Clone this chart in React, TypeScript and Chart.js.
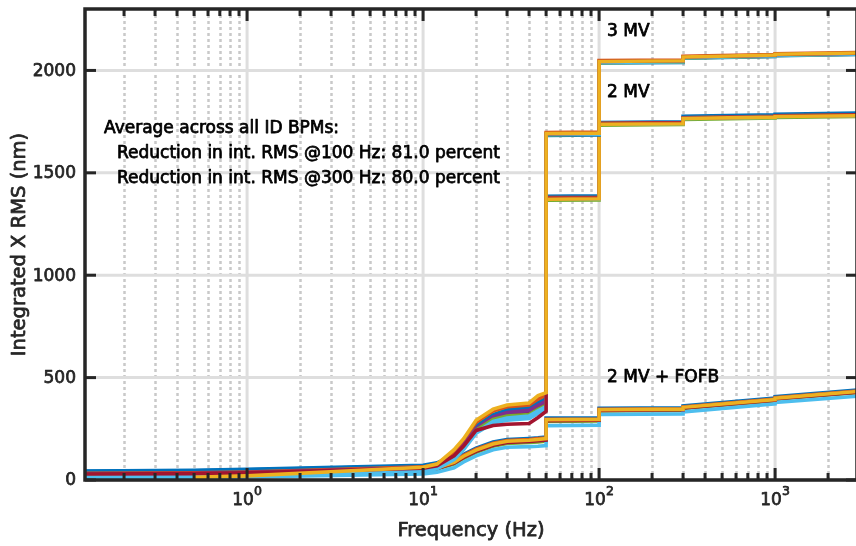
import React, { useEffect, useRef } from "react";
import { Chart, registerables } from "chart.js";
Chart.register(...registerables);

// Frequency grid (Hz). Repeated values give the vertical steps.
const FREQ = [0.12, 0.5, 1, 10, 12, 15, 17, 20, 25, 30, 40, 45, 50, 50, 100, 100, 300, 300, 1000, 1000, 3000];

// 2 MV + FOFB
const FOFB_BLUE = [40, 43, 46, 62, 68, 95, 125, 155, 185, 198, 203, 206, 210, 302, 304, 350, 353, 362, 400, 407, 440];
const FOFB_ORANGE = [30, 32, 35, 56, 63, 90, 120, 150, 180, 193, 198, 202, 205, 296, 298, 345, 348, 357, 395, 402, 435];
const FOFB_PURPLE = [27, 29, 32, 52, 58, 84, 113, 143, 173, 186, 191, 195, 198, 292, 294, 341, 344, 353, 391, 398, 431];
const FOFB_GREEN = [24, 26, 29, 48, 54, 78, 106, 135, 165, 178, 183, 186, 190, 286, 288, 337, 340, 349, 387, 394, 427];
const FOFB_LIGHTBLUE = [12, 13, 15, 30, 38, 60, 88, 118, 148, 160, 163, 165, 168, 265, 268, 320, 323, 332, 372, 379, 410];
const FOFB_DARKRED = [26, 28, 31, 50, 56, 82, 110, 140, 170, 183, 188, 192, 195, 290, 292, 340, 343, 352, 390, 397, 430];
const FOFB_YELLOW = [28, 30, 33, 54, 60, 86, 116, 146, 176, 189, 194, 198, 202, 294, 296, 343, 346, 355, 393, 400, 433];

// 2 MV
const MV2_BLUE = [42, 45, 50, 68, 80, 118, 170, 255, 310, 335, 348, 368, 385, 1386, 1388, 1746, 1749, 1776, 1783, 1786, 1792];
const MV2_ORANGE = [32, 34, 38, 62, 76, 128, 185, 268, 322, 342, 352, 378, 392, 1379, 1381, 1742, 1745, 1769, 1776, 1779, 1784];
const MV2_PURPLE = [29, 31, 35, 58, 70, 112, 165, 245, 300, 320, 330, 355, 372, 1374, 1376, 1739, 1742, 1766, 1773, 1776, 1780];
const MV2_GREEN = [26, 28, 32, 54, 66, 106, 155, 235, 287, 300, 306, 330, 350, 1366, 1368, 1733, 1736, 1761, 1768, 1771, 1775];
const MV2_LIGHTBLUE = [14, 16, 19, 40, 55, 100, 148, 228, 278, 292, 300, 325, 345, 1372, 1374, 1738, 1741, 1765, 1772, 1775, 1779];
const MV2_DARKRED = [28, 30, 34, 57, 68, 110, 160, 240, 292, 312, 322, 348, 365, 1374, 1376, 1740, 1743, 1767, 1774, 1777, 1781];
const MV2_YELLOW = [27, 29, 33, 60, 74, 138, 188, 278, 334, 354, 362, 392, 408, 1371, 1373, 1737, 1740, 1765, 1772, 1775, 1779];

// 3 MV
const MV3_BLUE = [44, 47, 52, 72, 84, 122, 175, 262, 318, 342, 355, 378, 398, 1683, 1685, 2036, 2039, 2060, 2068, 2072, 2078];
const MV3_ORANGE = [33, 35, 39, 64, 78, 135, 195, 282, 338, 358, 366, 395, 415, 1697, 1699, 2048, 2051, 2069, 2077, 2081, 2087];
const MV3_PURPLE = [30, 32, 36, 60, 72, 116, 170, 250, 308, 330, 340, 365, 385, 1689, 1691, 2041, 2044, 2063, 2071, 2075, 2081];
const MV3_GREEN = [27, 29, 33, 56, 68, 110, 160, 242, 296, 312, 320, 345, 365, 1686, 1688, 2038, 2041, 2061, 2069, 2073, 2079];
const MV3_LIGHTBLUE = [15, 17, 20, 45, 58, 105, 152, 232, 286, 302, 312, 338, 358, 1687, 1689, 2039, 2042, 2062, 2070, 2074, 2080];
const MV3_DARKRED = [29, 31, 35, 58, 70, 118, 166, 242, 266, 272, 276, 305, 335, 1691, 1693, 2044, 2047, 2066, 2074, 2078, 2084];
const MV3_YELLOW = [null, 13, 20, 62, 78, 148, 202, 292, 346, 366, 376, 412, 426, 1692, 1694, 2044, 2047, 2066, 2075, 2079, 2085];

const COLORS = ["#0072BD", "#D95319", "#7E2F8E", "#77AC30", "#4DBEEE", "#A2142F", "#EDB120"];
const GROUPS = [
  [FOFB_BLUE, FOFB_ORANGE, FOFB_PURPLE, FOFB_GREEN, FOFB_LIGHTBLUE, FOFB_DARKRED, FOFB_YELLOW],
  [MV2_BLUE, MV2_ORANGE, MV2_PURPLE, MV2_GREEN, MV2_LIGHTBLUE, MV2_DARKRED, MV2_YELLOW],
  [MV3_BLUE, MV3_ORANGE, MV3_PURPLE, MV3_GREEN, MV3_LIGHTBLUE, MV3_DARKRED, MV3_YELLOW],
];

const X_MIN = 0.12;
const X_MAX = 2920;
const Y_MIN = 0;
const Y_MAX = 2300;
const Y_TICKS = [0, 500, 1000, 1500, 2000];
const X_DECADES = [1, 10, 100, 1000];
const X_EXPONENTS = ["0", "1", "2", "3"];
const MINOR_MULT = [2, 3, 4, 5, 6, 7, 8, 9];
const MINOR_BASES = [0.1, 1, 10, 100, 1000];

const X_LABEL = "Frequency (Hz)";
const Y_LABEL = "Integrated X RMS (nm)";
const NOTE_LINES = [
  "Average across all ID BPMs:",
  "Reduction in int. RMS @100 Hz: 81.0 percent",
  "Reduction in int. RMS @300 Hz: 80.0 percent",
];
const GROUP_LABELS = ["3 MV", "2 MV", "2 MV + FOFB"];

const FONT = '"DejaVu Sans", "Liberation Sans", Arial, sans-serif';
const AXIS_COLOR = "#262626";

function minorTicks(): number[] {
  const out: number[] = [];
  for (const b of MINOR_BASES) for (const m of MINOR_MULT) {
    const v = b * m;
    if (v > X_MIN && v < X_MAX) out.push(v);
  }
  return out;
}

function heavyText(ctx: CanvasRenderingContext2D, text: string, x: number, y: number, size: number, color: string) {
  ctx.font = `${size}px ${FONT}`;
  ctx.fillStyle = color;
  ctx.strokeStyle = color;
  ctx.lineWidth = 0.75;
  ctx.lineJoin = "round";
  ctx.fillText(text, x, y);
  ctx.strokeText(text, x, y);
}

const matlabPlugin = {
  id: "matlabAxes",
  beforeDatasetsDraw(chart: any) {
    const { ctx, chartArea: a, scales } = chart;
    const x = scales.x, y = scales.y;
    ctx.save();
    ctx.strokeStyle = "#c9c9c9";
    ctx.lineWidth = 2.5;
    ctx.setLineDash([3, 3]);
    for (const v of minorTicks()) {
      const px = Math.round(x.getPixelForValue(v)) + 0.5;
      ctx.beginPath();
      ctx.moveTo(px, a.top);
      ctx.lineTo(px, a.bottom);
      ctx.stroke();
    }
    ctx.setLineDash([]);
    ctx.strokeStyle = "#dedede";
    ctx.lineWidth = 3;
    for (const v of X_DECADES) {
      const px = x.getPixelForValue(v);
      ctx.beginPath();
      ctx.moveTo(px, a.top);
      ctx.lineTo(px, a.bottom);
      ctx.stroke();
    }
    for (const v of Y_TICKS) {
      const py = y.getPixelForValue(v);
      ctx.beginPath();
      ctx.moveTo(a.left, py);
      ctx.lineTo(a.right, py);
      ctx.stroke();
    }
    ctx.restore();
  },
  afterDatasetsDraw(chart: any) {
    const { ctx, chartArea: a, scales } = chart;
    const x = scales.x, y = scales.y;
    ctx.save();
    ctx.strokeStyle = AXIS_COLOR;
    ctx.lineWidth = 3;
    ctx.setLineDash([]);
    const tick = (x1: number, y1: number, x2: number, y2: number) => {
      ctx.beginPath();
      ctx.moveTo(x1, y1);
      ctx.lineTo(x2, y2);
      ctx.stroke();
    };
    for (const v of minorTicks()) {
      const px = x.getPixelForValue(v);
      tick(px, a.bottom, px, a.bottom - 7);
      tick(px, a.top, px, a.top + 7);
    }
    for (const v of X_DECADES) {
      const px = x.getPixelForValue(v);
      tick(px, a.bottom, px, a.bottom - 12);
      tick(px, a.top, px, a.top + 12);
    }
    for (const v of Y_TICKS) {
      const py = y.getPixelForValue(v);
      tick(a.left, py, a.left + 11, py);
      tick(a.right, py, a.right - 11, py);
    }
    ctx.lineWidth = 3.5;
    ctx.beginPath();
    ctx.moveTo(a.left, a.top);
    ctx.lineTo(a.right, a.top);
    ctx.lineTo(a.right, a.bottom);
    ctx.lineTo(a.left, a.bottom);
    ctx.closePath();
    ctx.stroke();

    // y tick labels
    ctx.textAlign = "right";
    ctx.textBaseline = "middle";
    for (const v of Y_TICKS) {
      heavyText(ctx, String(v), a.left - 9, y.getPixelForValue(v) + 1, 17, AXIS_COLOR);
    }
    // x tick labels 10^n
    X_DECADES.forEach((v, i) => {
      const px = x.getPixelForValue(v);
      ctx.font = `17px ${FONT}`;
      const wBase = ctx.measureText("10").width;
      ctx.font = `12.5px ${FONT}`;
      const wExp = ctx.measureText(X_EXPONENTS[i]).width;
      const start = px - (wBase + wExp) / 2;
      ctx.textAlign = "left";
      ctx.textBaseline = "middle";
      heavyText(ctx, "10", start, a.bottom + 21, 17, AXIS_COLOR);
      heavyText(ctx, X_EXPONENTS[i], start + wBase, a.bottom + 12, 12.5, AXIS_COLOR);
    });
    // axis titles
    ctx.textAlign = "center";
    ctx.textBaseline = "middle";
    heavyText(ctx, X_LABEL, (a.left + a.right) / 2, 531, 19.5, AXIS_COLOR);
    ctx.save();
    ctx.translate(20, (a.top + a.bottom) / 2);
    ctx.rotate(-Math.PI / 2);
    heavyText(ctx, Y_LABEL, 0, 0, 19.5, AXIS_COLOR);
    ctx.restore();

    // annotations
    ctx.textAlign = "left";
    ctx.textBaseline = "middle";
    heavyText(ctx, NOTE_LINES[0], 104, 129, 17, "#000000");
    heavyText(ctx, NOTE_LINES[1], 117, 154, 17, "#000000");
    heavyText(ctx, NOTE_LINES[2], 117, 179, 17, "#000000");
    heavyText(ctx, GROUP_LABELS[0], 607, 32, 17, "#000000");
    heavyText(ctx, GROUP_LABELS[1], 607, 93, 17, "#000000");
    heavyText(ctx, GROUP_LABELS[2], 607, 378, 17, "#000000");
    ctx.restore();
  },
};

export default function App() {
  const ref = useRef<HTMLCanvasElement | null>(null);
  useEffect(() => {
    if (!ref.current) return;
    const datasets: any[] = [];
    let k = 0;
    const total = GROUPS.length * COLORS.length;
    GROUPS.forEach((group) => {
      group.forEach((vals, ci) => {
        datasets.push({
          data: FREQ.map((f, i) => ({ x: f, y: vals[i] })),
          borderColor: COLORS[ci],
          backgroundColor: COLORS[ci],
          borderWidth: 3.6,
          pointRadius: 0,
          tension: 0,
          fill: false,
          order: total - k,
        });
        k++;
      });
    });
    const chart = new Chart(ref.current, {
      type: "line",
      data: { datasets },
      options: {
        animation: false,
        responsive: false,
        devicePixelRatio: 1,
        events: [],
        layout: { padding: { left: 85, top: 9, right: 3, bottom: 66 } },
        plugins: { legend: { display: false }, tooltip: { enabled: false }, title: { display: false } },
        scales: {
          x: { type: "logarithmic", min: X_MIN, max: X_MAX, display: false },
          y: { type: "linear", min: Y_MIN, max: Y_MAX, display: false },
        },
      },
      plugins: [matlabPlugin],
    } as any);
    return () => chart.destroy();
  }, []);
  return (
    <div style={{ position: "fixed", left: 0, top: 0, width: 856, height: 546, overflow: "hidden", background: "#fff" }}>
      <canvas ref={ref} width={860} height={546} style={{ display: "block" }} />
    </div>
  );
}
